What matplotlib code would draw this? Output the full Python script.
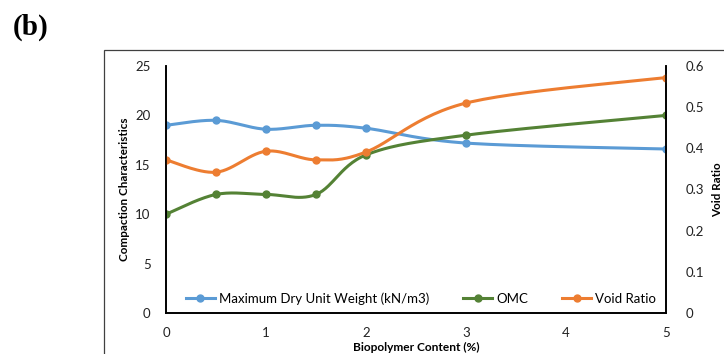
import numpy as np
import matplotlib.pyplot as plt
from matplotlib.lines import Line2D
from matplotlib.patches import Rectangle

# biopolymer content (%)
content = [0, 0.5, 1, 1.5, 2, 3, 5]
dry_unit_weight = [19.0, 19.5, 18.6, 19.0, 18.7, 17.2, 16.6]
omc = [10, 12, 12, 12, 16, 18, 20]
void_ratio = [0.372, 0.342, 0.393, 0.372, 0.391, 0.510, 0.572]

BLUE = '#5B9BD5'
GREEN = '#548235'
ORANGE = '#ED7D31'
FONT = 'Lato'


def smooth(ax, xs, ys, n=30):
    # excel style smoothed line: bezier through points, done in pixel space
    pts = ax.transData.transform(np.column_stack([xs, ys]))
    out = [pts[0]]
    for i in range(len(pts) - 1):
        p0 = pts[i - 1] if i > 0 else pts[i]
        p1, p2 = pts[i], pts[i + 1]
        p3 = pts[i + 2] if i + 2 < len(pts) else pts[i + 1]
        c1 = p1 + (p2 - p0) / 6
        c2 = p2 - (p3 - p1) / 6
        t = np.linspace(0, 1, n)[1:, None]
        seg = ((1 - t) ** 3) * p1 + 3 * ((1 - t) ** 2) * t * c1 + 3 * (1 - t) * t ** 2 * c2 + t ** 3 * p2
        out.extend(seg)
    return ax.transData.inverted().transform(np.array(out))


fig = plt.figure(figsize=(7.24, 3.54), dpi=100)
fig.patches.append(Rectangle((104 / 724, -0.1), 1.0, 1 - 50 / 354 + 0.1,
                             transform=fig.transFigure, fill=False,
                             edgecolor='#404040', linewidth=0.9))

ax = fig.add_axes([166 / 724, 41 / 354, 500 / 724, 247 / 354])
ax2 = ax.twinx()

ax.set_xlim(0, 5)
ax.set_ylim(0, 25)
ax2.set_ylim(0, 0.6)
ax.set_xticks([0, 1, 2, 3, 4, 5])
ax.set_yticks([0, 5, 10, 15, 20, 25])
ax2.set_yticks([0, 0.1, 0.2, 0.3, 0.4, 0.5, 0.6])
ax2.set_yticklabels(['0', '0.1', '0.2', '0.3', '0.4', '0.5', '0.6'])

for a in (ax, ax2):
    a.patch.set_visible(False)
    a.spines['top'].set_visible(False)
    for s in ('left', 'right', 'bottom'):
        a.spines[s].set_linewidth(1.2)
        a.spines[s].set_color('black')
    a.tick_params(length=0, labelsize=9.5, colors='#222222')
    for lbl in a.get_xticklabels() + a.get_yticklabels():
        lbl.set_fontfamily(FONT)
ax.tick_params(axis='x', pad=10)
ax.tick_params(axis='y', pad=11)
ax2.tick_params(axis='y', pad=14)

fig.canvas.draw()

for a, ys, c in ((ax, dry_unit_weight, BLUE), (ax, omc, GREEN), (ax2, void_ratio, ORANGE)):
    curve = smooth(a, content, ys)
    a.plot(curve[:, 0], curve[:, 1], color=c, linewidth=2.2, solid_capstyle='round')
    a.plot(content, ys, 'o', color=c, markersize=5)

ax.set_xlabel('Biopolymer Content (%)', fontsize=8.6, fontweight='bold', fontfamily=FONT, labelpad=2)
ax.set_ylabel('Compaction Characteristics', fontsize=8.4, fontweight='bold', fontfamily=FONT, labelpad=4)
ax2.set_ylabel('Void Ratio', fontsize=8.4, fontweight='bold', fontfamily=FONT, rotation=90, labelpad=6)

handles = [Line2D([], [], color=c, linewidth=2.2, marker='o', markersize=5)
           for c in (BLUE, GREEN, ORANGE)]
ax.legend(handles, ['Maximum Dry Unit Weight (kN/m3)', 'OMC', 'Void Ratio'],
          loc='lower center', bbox_to_anchor=(0.51, 0.0), ncol=3, frameon=False,
          prop={'family': FONT, 'size': 9.5}, handlelength=2.2, handletextpad=0.3,
          columnspacing=2.6, borderaxespad=0.2)

fig.text(13 / 724, 1 - 27 / 354, '(b)', fontsize=21, fontweight='bold',
         fontfamily='Liberation Serif', va='center', ha='left')

fig.savefig('out.png', dpi=100)
